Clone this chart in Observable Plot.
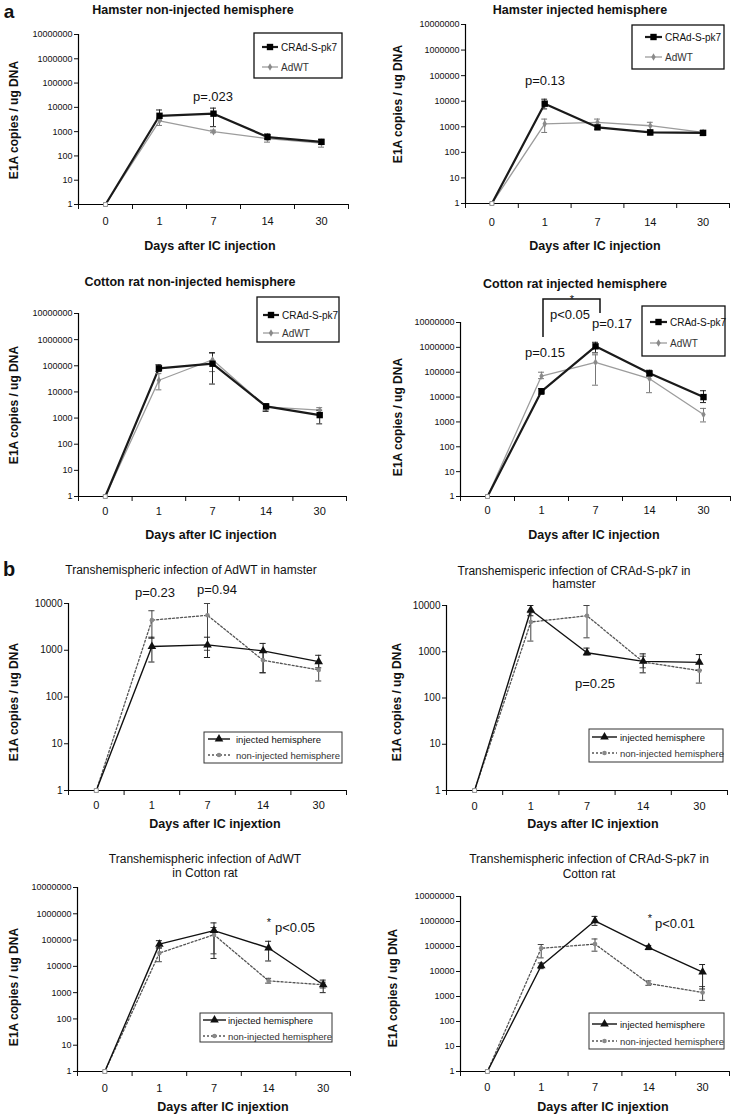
<!DOCTYPE html>
<html><head><meta charset="utf-8">
<script src="https://cdn.jsdelivr.net/npm/d3@7"></script>
<script src="https://cdn.jsdelivr.net/npm/@observablehq/plot@0.6"></script>
<style>
body{margin:0;background:#fff;}
#page{position:relative;width:735px;height:1115px;overflow:hidden;background:#fff;font-family:"Liberation Sans",Arial,sans-serif;}
#page svg{position:absolute;}
</style></head><body><div id="page"></div>
<script>
// ---------- DATA ----------
const days = ["0", "1", "7", "14", "30"];
const ticksA = [1, 10, 100, 1000, 10000, 100000, 1000000, 10000000];
const ticksB = [1, 10, 100, 1000, 10000];

// a: Hamster non-injected hemisphere
const hamNonInj_CRAd    = [1, 4500, 5500, 600, 380];
const hamNonInj_CRAd_lo = [1, 3000, 1600, 500, 300];
const hamNonInj_CRAd_hi = [1, 7800, 9300, 800, 480];
const hamNonInj_AdWT    = [1, 2800, 1000, 520, 340];
const hamNonInj_AdWT_lo = [1, 1800, 900, 370, 230];
const hamNonInj_AdWT_hi = [1, 3600, 1150, 650, 430];
// a: Hamster injected hemisphere
const hamInj_CRAd    = [1, 8000, 950, 600, 580];
const hamInj_CRAd_lo = [1, 5000, 800, 480, 450];
const hamInj_CRAd_hi = [1, 12000, 1100, 750, 700];
const hamInj_AdWT    = [1, 1300, 1500, 1100, 600];
const hamInj_AdWT_lo = [1, 600, 1100, 700, 500];
const hamInj_AdWT_hi = [1, 2000, 2000, 1500, 700];
// a: Cotton rat non-injected hemisphere
const crNonInj_CRAd    = [1, 80000, 120000, 2800, 1300];
const crNonInj_CRAd_lo = [1, 60000, 20000, 1800, 600];
const crNonInj_CRAd_hi = [1, 110000, 320000, 3500, 2000];
const crNonInj_AdWT    = [1, 28000, 170000, 2700, 2000];
const crNonInj_AdWT_lo = [1, 12000, 60000, 2000, 1500];
const crNonInj_AdWT_hi = [1, 50000, 300000, 3500, 2500];
// a: Cotton rat injected hemisphere
const crInj_CRAd    = [1, 17000, 1100000, 90000, 10000];
const crInj_CRAd_lo = [1, 13000, 600000, 70000, 6000];
const crInj_CRAd_hi = [1, 22000, 1600000, 120000, 18000];
const crInj_AdWT    = [1, 70000, 250000, 55000, 2000];
const crInj_AdWT_lo = [1, 55000, 30000, 15000, 1000];
const crInj_AdWT_hi = [1, 100000, 500000, 90000, 3500];
// b: AdWT in hamster
const hamAdWT_inj    = [1, 1200, 1300, 970, 570];
const hamAdWT_inj_lo = [1, 560, 700, 330, 420];
const hamAdWT_inj_hi = [1, 1900, 1900, 1400, 780];
const hamAdWT_non    = [1, 4400, 5600, 610, 380];
const hamAdWT_non_lo = [1, 1800, 1000, 330, 220];
const hamAdWT_non_hi = [1, 7000, 10000, 900, 550];
// b: CRAd-S-pk7 in hamster
const hamCRAd_inj    = [1, 8000, 950, 620, 590];
const hamCRAd_inj_lo = [1, 6000, 850, 350, 400];
const hamCRAd_inj_hi = [1, 10000, 1200, 900, 870];
const hamCRAd_non    = [1, 4400, 6000, 600, 390];
const hamCRAd_non_lo = [1, 1700, 2000, 450, 210];
const hamCRAd_non_hi = [1, 7000, 10000, 800, 550];
// b: AdWT in cotton rat
const crAdWT_inj    = [1, 70000, 230000, 50000, 2000];
const crAdWT_inj_lo = [1, 50000, 20000, 16000, 1000];
const crAdWT_inj_hi = [1, 95000, 450000, 90000, 3000];
const crAdWT_non    = [1, 32000, 160000, 2800, 2000];
const crAdWT_non_lo = [1, 15000, 30000, 2300, 1500];
const crAdWT_non_hi = [1, 50000, 300000, 3500, 2500];
// b: CRAd-S-pk7 in cotton rat
const crCRAd_inj    = [1, 17000, 1070000, 91000, 9500];
const crCRAd_inj_lo = [1, 13000, 700000, 75000, 2000];
const crCRAd_inj_hi = [1, 22000, 1600000, 110000, 19000];
const crCRAd_non    = [1, 85000, 125000, 3300, 1450];
const crCRAd_non_lo = [1, 35000, 65000, 2800, 700];
const crCRAd_non_hi = [1, 120000, 200000, 4200, 2500];

// ---------- STYLES ----------
const styles = {
  crad: {stroke: "#1a1a1a", strokeWidth: 2.2, symbol: "square", r: 3.6, fill: "#000", err: "#222"},
  adwt: {stroke: "#9c9c9c", strokeWidth: 1.3, symbol: "diamond", r: 2.3, fill: "#8a8a8a", err: "#777"},
  inj:  {stroke: "#111", strokeWidth: 1.4, symbol: "triangle", r: 3.2, fill: "#111", err: "#222"},
  non:  {stroke: "#555", strokeWidth: 1.3, dash: "2,2", symbol: "circle", r: 2.3, fill: "#888", err: "#444"}
};
const FONT = "Liberation Sans, Arial, sans-serif";

const panels = [
  {frame: [78, 348, 34, 204], yMax: 1e7, ticks: ticksA, yFont: 9, xPad: 13,
   series: [{key: "crad", v: hamNonInj_CRAd, lo: hamNonInj_CRAd_lo, hi: hamNonInj_CRAd_hi},
            {key: "adwt", v: hamNonInj_AdWT, lo: hamNonInj_AdWT_lo, hi: hamNonInj_AdWT_hi}]},
  {frame: [465, 729, 24, 203], yMax: 1e7, ticks: ticksA, yFont: 9, xPad: 15,
   series: [{key: "crad", v: hamInj_CRAd, lo: hamInj_CRAd_lo, hi: hamInj_CRAd_hi},
            {key: "adwt", v: hamInj_AdWT, lo: hamInj_AdWT_lo, hi: hamInj_AdWT_hi}]},
  {frame: [78, 346, 313, 496], yMax: 1e7, ticks: ticksA, yFont: 9, xPad: 11,
   series: [{key: "crad", v: crNonInj_CRAd, lo: crNonInj_CRAd_lo, hi: crNonInj_CRAd_hi},
            {key: "adwt", v: crNonInj_AdWT, lo: crNonInj_AdWT_lo, hi: crNonInj_AdWT_hi}]},
  {frame: [460, 730, 322, 496], yMax: 1e7, ticks: ticksA, yFont: 9, xPad: 10,
   series: [{key: "crad", v: crInj_CRAd, lo: crInj_CRAd_lo, hi: crInj_CRAd_hi},
            {key: "adwt", v: crInj_AdWT, lo: crInj_AdWT_lo, hi: crInj_AdWT_hi}]},
  {frame: [68, 346, 603, 790], yMax: 1e4, ticks: ticksB, yFont: 10, xPad: 11,
   series: [{key: "inj", v: hamAdWT_inj, lo: hamAdWT_inj_lo, hi: hamAdWT_inj_hi},
            {key: "non", v: hamAdWT_non, lo: hamAdWT_non_lo, hi: hamAdWT_non_hi}]},
  {frame: [446, 727, 605, 790], yMax: 1e4, ticks: ticksB, yFont: 10, xPad: 12,
   series: [{key: "inj", v: hamCRAd_inj, lo: hamCRAd_inj_lo, hi: hamCRAd_inj_hi},
            {key: "non", v: hamCRAd_non, lo: hamCRAd_non_lo, hi: hamCRAd_non_hi}]},
  {frame: [77, 350, 887, 1071], yMax: 1e7, ticks: ticksA, yFont: 9, xPad: 13,
   series: [{key: "inj", v: crAdWT_inj, lo: crAdWT_inj_lo, hi: crAdWT_inj_hi},
            {key: "non", v: crAdWT_non, lo: crAdWT_non_lo, hi: crAdWT_non_hi}]},
  {frame: [460, 729, 896, 1071], yMax: 1e7, ticks: ticksA, yFont: 9, xPad: 12,
   series: [{key: "inj", v: crCRAd_inj, lo: crCRAd_inj_lo, hi: crCRAd_inj_hi},
            {key: "non", v: crCRAd_non, lo: crCRAd_non_lo, hi: crCRAd_non_hi}]}
];

const page = document.getElementById("page");

function drawPanel(p) {
  const [l, r, t, b] = p.frame;
  const x0 = l - 80, y0 = t - 12;
  const W = r - x0 + 8, H = b - y0 + 34;
  const marks = [
    Plot.axisY({ticks: p.ticks, tickFormat: d => String(d), tickSize: 4, tickPadding: 2, fontSize: p.yFont, label: null}),
    Plot.axisX({ticks: days.map((d, i) => i), tickFormat: i => days[Math.round(i)], tickSize: 0, tickPadding: p.xPad, fontSize: 11, label: null}),
    Plot.axisX({ticks: d3.range(days.length + 1).map(k => k - 0.5), tickFormat: () => "", tickSize: 5, label: null}),
    Plot.ruleX([-0.5], {stroke: "#000", strokeWidth: 1.2}),
    Plot.ruleY([1], {stroke: "#000", strokeWidth: 1.2})
  ];
  const all = p.series.map(s => ({s, st: styles[s.key],
    data: days.map((d, i) => ({i, v: s.v[i], lo: s.lo[i], hi: s.hi[i]}))}));
  const order = all.slice().reverse();
  for (const {st, data} of order) {
    marks.push(Plot.line(data, {x: "i", y: "v", stroke: st.stroke, strokeWidth: st.strokeWidth, strokeDasharray: st.dash}));
  }
  for (const {st, data} of order) {
    const eb = data.filter(d => d.hi > d.lo);
    marks.push(Plot.ruleX(eb, {x: "i", y1: "lo", y2: "hi", stroke: st.err, strokeWidth: 1}));
    marks.push(Plot.ruleY(eb, {y: "lo", x1: d => d.i - 0.055, x2: d => d.i + 0.055, stroke: st.err, strokeWidth: 1}));
    marks.push(Plot.ruleY(eb, {y: "hi", x1: d => d.i - 0.055, x2: d => d.i + 0.055, stroke: st.err, strokeWidth: 1}));
  }
  for (const {st, data} of order) {
    marks.push(Plot.dot(data.filter(d => d.i > 0), {x: "i", y: "v", symbol: st.symbol, r: st.r, fill: st.fill, stroke: "none"}));
    marks.push(Plot.dot(data.filter(d => d.i === 0), {x: "i", y: "v", symbol: "square", r: 2.2, fill: "#fff", stroke: "#888", strokeWidth: 0.8}));
  }
  const svg = Plot.plot({
    width: W, height: H,
    marginLeft: l - x0, marginRight: x0 + W - r, marginTop: t - y0, marginBottom: y0 + H - b,
    x: {type: "linear", domain: [-0.5, days.length - 0.5]},
    y: {type: "log", domain: [1, p.yMax]},
    style: {background: "transparent", fontFamily: FONT, color: "#111", fontSize: "9px", overflow: "visible"},
    marks
  });
  svg.style.left = x0 + "px";
  svg.style.top = y0 + "px";
  page.appendChild(svg);
}
panels.forEach(drawPanel);

// ---------- OVERLAY: titles, labels, annotations, legends ----------
const ov = d3.select(page).append("svg").attr("width", 735).attr("height", 1115)
  .style("left", "0px").style("top", "0px").style("font-family", FONT);

function txt(x, y, s, o = {}) {
  const t = ov.append("text").attr("x", x).attr("y", y).text(s)
    .attr("text-anchor", o.anchor || "middle").attr("dominant-baseline", "central")
    .attr("font-size", o.size || 12).attr("font-weight", o.weight || "normal").attr("fill", o.fill || "#111");
  if (o.rotate) t.attr("transform", `rotate(${o.rotate},${x},${y})`);
  return t;
}

txt(9, 11, "a", {size: 19, weight: "bold"});
txt(9, 569, "b", {size: 20, weight: "bold"});

const titlesA = [
  [193, 10, "Hamster non-injected hemisphere"],
  [580, 10, "Hamster injected hemisphere"],
  [190, 282, "Cotton rat non-injected hemisphere"],
  [575, 284, "Cotton rat injected hemisphere"]
];
titlesA.forEach(([x, y, s]) => txt(x, y, s, {size: 12.5, weight: "bold"}));
const titlesB = [
  [191, 570, "Transhemispheric infection of AdWT in hamster"],
  [574, 571, "Transhemisperic infection of CRAd-S-pk7 in"],
  [574, 584, "hamster"],
  [205, 859, "Transhemispheric infection of AdWT"],
  [205, 873, "in Cotton rat"],
  [589, 859, "Transhemispheric infection of CRAd-S-pk7 in"],
  [589, 874, "Cotton rat"]
];
titlesB.forEach(([x, y, s]) => txt(x, y, s, {size: 12}));

const xLabels = [[210, 246, "Days after IC injection"], [595, 246, "Days after IC injection"],
  [211, 535, "Days after IC injection"], [594, 535, "Days after IC injection"],
  [215, 824, "Days after IC injextion"], [593, 824, "Days after IC injextion"],
  [223, 1107, "Days after IC injextion"], [603, 1107, "Days after IC injextion"]];
xLabels.forEach(([x, y, s]) => txt(x, y, s, {size: 12.5, weight: "bold"}));

const yLabels = [[14, 120], [398, 104], [14, 405], [398, 417], [14, 702], [397, 702], [14, 987], [393, 988]];
yLabels.forEach(([x, y]) => txt(x, y, "E1A copies / ug DNA", {size: 12, weight: "bold", rotate: -90}));

const notes = [[213, 96, "p=.023"], [545, 80, "p=0.13"], [545, 352, "p=0.15"], [612, 323, "p=0.17"],
  [570, 314, "p<0.05"], [572, 299, "*"], [155, 592, "p=0.23"], [217, 589, "p=0.94"], [595, 683, "p=0.25"],
  [295, 927, "p<0.05"], [269, 922, "*"], [675, 923, "p<0.01"], [650, 918, "*"]];
notes.forEach(([x, y, s]) => txt(x, y, s, {size: s === "*" ? 11 : 13}));

// bracket in cotton rat injected panel
ov.append("path").attr("d", "M543,337V299H600V313").attr("fill", "none").attr("stroke", "#111").attr("stroke-width", 1.5);

// legends
const legendsA = [
  {box: [254, 33, 88, 45], lx: [262, 278], tx: 281, rows: [[47, "crad", "CRAd-S-pk7"], [67, "adwt", "AdWT"]]},
  {box: [632, 25, 92, 44], lx: [645, 662], tx: 665, rows: [[37, "crad", "CRAd-S-pk7"], [57, "adwt", "AdWT"]]},
  {box: [257, 297, 82, 45], lx: [263, 279], tx: 282, rows: [[315, "crad", "CRAd-S-pk7"], [333, "adwt", "AdWT"]]},
  {box: [642, 306, 83, 50], lx: [650, 667], tx: 670, rows: [[322, "crad", "CRAd-S-pk7"], [343, "adwt", "AdWT"]]}
];
const legendsB = [
  {box: [204, 732, 138, 31], lx: [208, 230], tx: 236, rows: [[739, "inj", "injected hemisphere"], [755, "non", "non-injected hemisphere"]]},
  {box: [589, 729, 134, 33], lx: [592, 617], tx: 620, rows: [[737, "inj", "injected hemisphere"], [753, "non", "non-injected hemisphere"]]},
  {box: [200, 1013, 132, 29], lx: [203, 226], tx: 228, rows: [[1020, "inj", "injected hemisphere"], [1036, "non", "non-injected hemisphere"]]},
  {box: [589, 1013, 135, 36], lx: [592, 617], tx: 620, rows: [[1024, "inj", "injected hemisphere"], [1041, "non", "non-injected hemisphere"]]}
];
function legend(L, fontSize, boxStroke, boxW) {
  const [bx, by, bw, bh] = L.box;
  ov.append("rect").attr("x", bx).attr("y", by).attr("width", bw).attr("height", bh)
    .attr("fill", "#fff").attr("stroke", boxStroke).attr("stroke-width", boxW);
  for (const [y, key, label] of L.rows) {
    const st = styles[key];
    ov.append("line").attr("x1", L.lx[0]).attr("x2", L.lx[1]).attr("y1", y).attr("y2", y)
      .attr("stroke", st.stroke).attr("stroke-width", st.strokeWidth).attr("stroke-dasharray", st.dash || null);
    const sym = {square: d3.symbolSquare, diamond: d3.symbolDiamond, triangle: d3.symbolTriangle, circle: d3.symbolCircle}[st.symbol];
    ov.append("path").attr("d", d3.symbol(sym, Math.PI * st.r * st.r)())
      .attr("transform", `translate(${(L.lx[0] + L.lx[1]) / 2},${y})`).attr("fill", st.fill);
    txt(L.tx, y, label, {anchor: "start", size: fontSize, fill: key === "adwt" || key === "non" ? "#333" : "#111"});
  }
}
legendsA.forEach(L => legend(L, 10, "#111", 1.3));
legendsB.forEach(L => legend(L, 9.5, "#333", 1));
</script></body></html>
